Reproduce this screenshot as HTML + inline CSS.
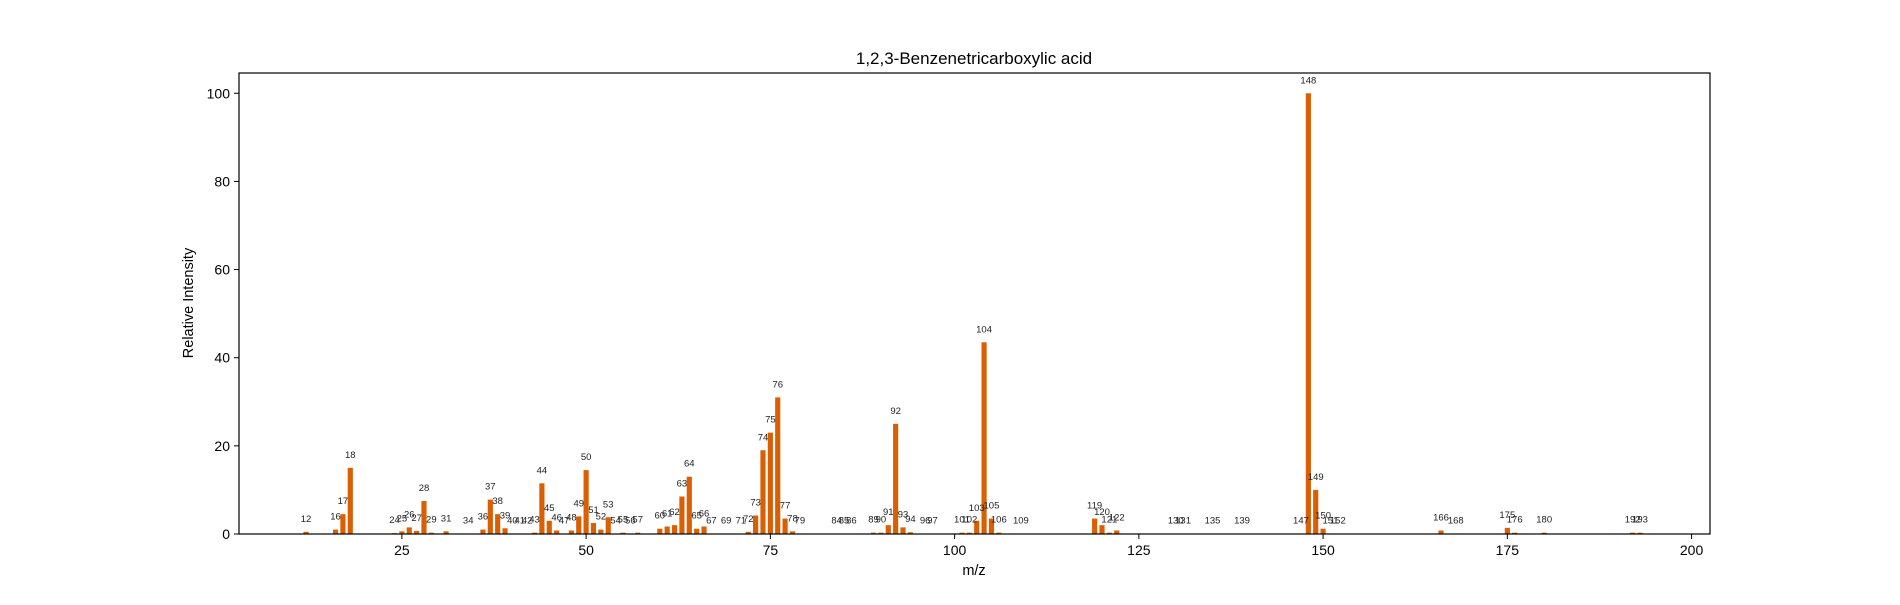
<!DOCTYPE html>
<html><head><meta charset="utf-8"><style>
body{margin:0;background:#fff;font-family:"Liberation Sans","DejaVu Sans",sans-serif}
</style></head><body>
<svg id="chart" width="1900" height="600" xmlns="http://www.w3.org/2000/svg">
<rect width="1900" height="600" fill="#fff"/>
<text x="974" y="64" font-size="17" text-anchor="middle">1,2,3-Benzenetricarboxylic acid</text>
<g id="bars"></g>
<g id="labels"></g>
<g id="axes"></g>
<text x="974" y="575" font-size="14.5" text-anchor="middle">m/z</text>
<text transform="translate(193,303) rotate(-90)" font-size="14.5" text-anchor="middle">Relative Intensity</text>
</svg>
<script>
const mzValues=[12,16,17,18,24,25,26,27,28,29,31,34,36,37,38,39,40,41,42,43,44,45,46,47,48,49,50,51,52,53,54,55,56,57,60,61,62,63,64,65,66,67,69,71,72,73,74,75,76,77,78,79,84,85,86,89,90,91,92,93,94,96,97,101,102,103,104,105,106,109,119,120,121,122,130,131,135,139,147,148,149,150,151,152,166,168,175,176,180,192,193];
const intensities=[0.5,1,4.5,15,0.2,0.6,1.5,0.7,7.5,0.3,0.6,0.1,1,7.8,4.5,1.3,0.1,0.1,0.1,0.3,11.5,3,0.8,0.1,0.8,4,14.5,2.5,1,3.8,0.1,0.3,0.1,0.3,1.2,1.7,2,8.5,13,1.2,1.7,0.1,0.1,0.1,0.5,4.2,19,23,31,3.5,0.6,0.1,0.1,0.1,0.1,0.3,0.3,2,25,1.5,0.4,0.1,0.1,0.3,0.3,3,43.5,3.5,0.3,0.1,3.5,2,0.3,0.8,0.1,0.1,0.1,0.1,0.1,100,10,1.2,0.1,0.1,0.8,0.1,1.4,0.3,0.3,0.3,0.3];
const xTicks=[25,50,75,100,125,150,175,200];
const yTicks=[0,20,40,60,80,100];
const ns="http://www.w3.org/2000/svg";
const L=239,R=1710,T=73,B=534;
const xMin=2.9,xMax=202.5,yMax=104.6;
const xs=v=>L+(v-xMin)/(xMax-xMin)*(R-L);
const ys=v=>B-v/yMax*(B-T);
function mk(tag,attrs,parent){const e=document.createElementNS(ns,tag);for(const k in attrs)e.setAttribute(k,attrs[k]);parent.appendChild(e);return e;}
const bars=document.getElementById('bars'),labels=document.getElementById('labels'),axes=document.getElementById('axes');
const bw=0.7*(R-L)/(xMax-xMin);
mzValues.forEach((m,i)=>{
  const v=intensities[i];
  const r=mk('rect',{x:xs(m)-bw/2,y:ys(v),width:bw,height:B-ys(v),fill:'#d95f02'},bars);
  
  
  const t=mk('text',{x:xs(m),y:ys(v)-10,'font-size':'9.5','text-anchor':'middle',fill:'#222'},labels);
  t.textContent=m;
  
  
});
mk('rect',{x:L,y:T,width:R-L,height:B-T,fill:'none',stroke:'#000','stroke-width':1.2},axes);
xTicks.forEach(v=>{
  mk('line',{x1:xs(v),x2:xs(v),y1:B,y2:B+5,stroke:'#000'},axes);
  const t=mk('text',{x:xs(v),y:B+21,'font-size':'14','text-anchor':'middle'},axes);
  t.textContent=v;
  
  
});
yTicks.forEach(v=>{
  mk('line',{x1:L-5,x2:L,y1:ys(v),y2:ys(v),stroke:'#000'},axes);
  const t=mk('text',{x:L-9,y:ys(v)+5,'font-size':'14','text-anchor':'end'},axes);
  t.textContent=v;
  
  
});
</script>
</body></html>
